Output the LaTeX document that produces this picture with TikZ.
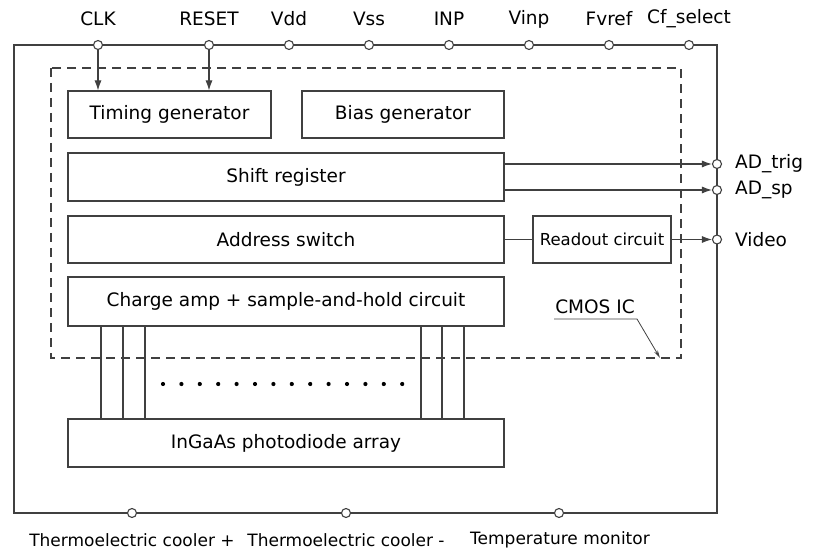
\documentclass[tikz,border=0pt]{standalone}
\usepackage{fontspec}
\setmainfont{DejaVu Sans}
\usetikzlibrary{arrows.meta}
\begin{document}
\begin{tikzpicture}[x=1pt,y=-1pt,
  every node/.style={font=\fontsize{18.5}{21}\selectfont, text=black},
  ln/.style={draw=black!75, line width=1.1pt},
  blk/.style={ln, rectangle, inner sep=0pt, minimum height=47pt},
  pin/.style={ln, circle, fill=white, minimum size=9pt, inner sep=0pt},
  arr/.style={ln, -{Latex[length=10pt,width=7pt]}},
  lbl/.style={inner sep=0pt},
  blbl/.style={inner sep=0pt, font=\fontsize{17}{20}\selectfont}]
\useasboundingbox (0,0) rectangle (813,553);
% outer frame
\draw[ln] (14,45) rectangle (717,513);
% dashed CMOS IC boundary
\draw[ln, dash pattern=on 9pt off 6pt] (51,68) rectangle (681,358);
% blocks
\node[blk, minimum width=203pt] (timing) at (169.5,114.5) {Timing generator};
\node[blk, minimum width=202pt] (bias) at (403,114.5) {Bias generator};
\node[blk, minimum width=436pt, minimum height=48pt] (shift) at (286,177) {Shift register};
\node[blk, minimum width=436pt] (addr) at (286,239.5) {Address switch};
\node[blk, minimum width=138pt, font=\fontsize{16.5}{20}\selectfont] (readout) at (602,239.5) {Readout circuit};
\node[blk, minimum width=436pt, minimum height=49pt] (charge) at (286,301.5) {Charge amp + sample-and-hold circuit};
\node[blk, minimum width=436pt, minimum height=48pt] (photo) at (286,443) {InGaAs photodiode array};
% wires between charge amp and photodiode array
\foreach \x in {101,123,145,421,442,464}
  \draw[ln] (\x,0 |- charge.south) -- (\x,0 |- photo.north);
\foreach \i in {0,...,13}
  \fill[black] (163+\i*18.4,384) circle (2.1pt);
% top pins
\foreach \n/\x/\t in {clk/98/CLK, reset/209/RESET, vdd/289/Vdd, vss/369/Vss, inp/449/INP, vinp/529/Vinp, fvref/609/Fvref, cfsel/689/Cf\_select}{
  \node[pin] (\n) at (\x,45) {};
  \node[lbl] (\n l) at (\x,19) {\t};
}
% right pins
\node[pin] (adtrig) at (717,164) {};
\node[pin] (adsp) at (717,190) {};
\node[pin] (video) at (717,239.5) {};
\node[lbl, anchor=west] (adtrigl) at (735,164) {AD\_trig};
\node[lbl, anchor=west] (adspl) at (735,190) {AD\_sp};
\node[lbl, anchor=west] (videol) at (735,239.5) {Video};
% bottom pins
\node[pin] (tecp) at (132,513) {};
\node[pin] (tecm) at (346,513) {};
\node[pin] (temp) at (559,513) {};
\node[blbl] (tecpl) at (132,540) {Thermoelectric cooler +};
\node[blbl] (tecml) at (346,540) {Thermoelectric cooler -};
\node[blbl] (templ) at (560,540) {Temperature monitor};
% connectors
\draw[arr] (clk.south) -- (clk.south |- timing.north);
\draw[arr] (reset.south) -- (reset.south |- timing.north);
\draw[arr] (adtrig -| shift.east) -- (adtrig.west);
\draw[arr] (adsp -| shift.east) -- (adsp.west);
\draw[ln] (addr.east) -- (readout.west);
\draw[arr] (readout.east) -- (video.west);
% CMOS IC label
\node[lbl] (cmos) at (595,307) {CMOS IC};
\coordinate (cmosa) at (554,319);
\coordinate (cmosb) at (637,319);
\coordinate (cmost) at (660,358);
\draw[ln, line width=0.8pt, -{Stealth[length=8pt,width=4pt]}] (cmosa) -- (cmosb) -- (cmost);
\end{tikzpicture}
\end{document}
